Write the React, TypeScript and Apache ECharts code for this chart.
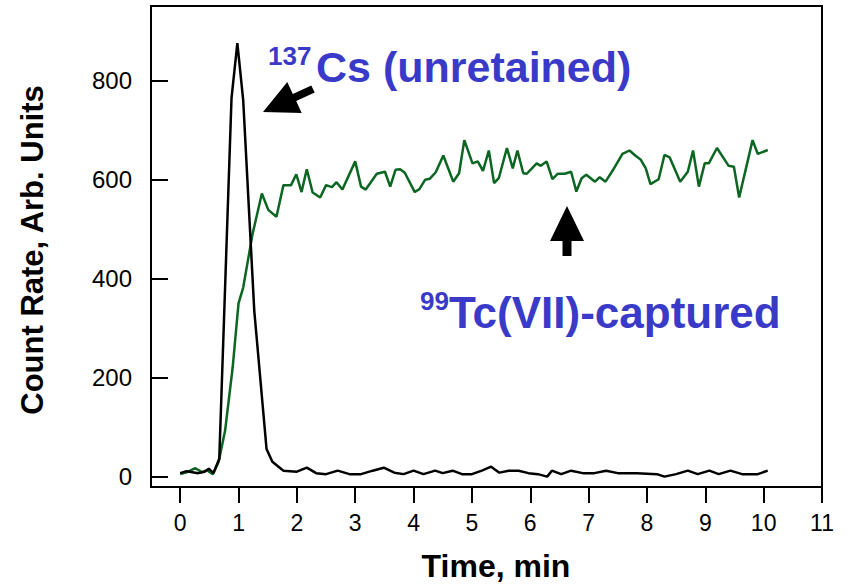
import React, { useEffect, useRef } from "react";
import * as echarts from "echarts";

// x-axis ticks (minutes) and y-axis ticks (count rate)
const xTicks = [0, 1, 2, 3, 4, 5, 6, 7, 8, 9, 10, 11];
const yTicks = [0, 200, 400, 600, 800];

// 99Tc(VII) captured trace (green)
const tcTimes = [
  0.0, 0.1, 0.26, 0.37, 0.46, 0.56, 0.66, 0.77, 0.9, 1.0, 1.08, 1.24, 1.4, 1.51, 1.65,
  1.77, 1.9, 1.99, 2.08, 2.17, 2.27, 2.4, 2.5, 2.6, 2.68, 2.78, 3.0, 3.1, 3.18, 3.37,
  3.51, 3.6, 3.69, 3.77, 3.85, 4.02, 4.1, 4.2, 4.28, 4.38, 4.51, 4.68, 4.78, 4.87,
  5.01, 5.1, 5.19, 5.29, 5.38, 5.46, 5.6, 5.7, 5.78, 5.88, 5.94, 6.11, 6.18, 6.28,
  6.38, 6.47, 6.59, 6.7, 6.79, 6.88, 6.96, 7.11, 7.19, 7.29, 7.42, 7.58, 7.7, 7.81,
  7.89, 7.98, 8.06, 8.2, 8.3, 8.39, 8.57, 8.7, 8.79, 8.89, 8.99, 9.06, 9.2, 9.4,
  9.49, 9.58, 9.81, 9.9, 10.07,
];
const tcCounts = [
  5, 8, 17, 9, 13, 5, 30, 93, 221, 350, 382, 490, 572, 539, 525,
  589, 589, 611, 575, 621, 574, 564, 589, 585, 595, 580, 637, 586, 580, 612,
  616, 586, 620, 621, 614, 575, 581, 600, 602, 615, 649, 596, 613, 680,
  633, 637, 618, 659, 593, 603, 664, 623, 659, 613, 612, 633, 628, 637,
  601, 612, 612, 616, 576, 603, 610, 596, 605, 596, 620, 652, 659, 648,
  641, 623, 591, 601, 650, 645, 596, 616, 659, 586, 633, 633, 664, 628,
  626, 564, 680, 652, 660,
];

// 137Cs unretained trace (black)
const csTimes = [
  0.0, 0.11, 0.31, 0.42, 0.49, 0.57, 0.67, 0.88, 0.98, 1.08, 1.27, 1.48, 1.58, 1.77,
  2.0, 2.17, 2.33, 2.5, 2.7, 2.9, 3.1, 3.3, 3.49, 3.67, 3.83, 4.0, 4.17, 4.37, 4.5,
  4.67, 4.83, 5.0, 5.17, 5.33, 5.47, 5.63, 5.8, 5.97, 6.13, 6.29, 6.37, 6.53, 6.7,
  6.9, 7.1, 7.3, 7.5, 7.83, 8.17, 8.3, 8.5, 8.7, 8.87, 9.07, 9.23, 9.43, 9.63, 9.9,
  10.07,
];
const csCounts = [
  7, 11, 7, 10, 16, 7, 36, 765, 876, 761, 335, 56, 30, 12,
  10, 18, 7, 5, 12, 5, 5, 12, 18, 8, 5, 12, 5, 12, 7,
  12, 5, 5, 12, 20, 8, 12, 12, 7, 5, 0, 12, 5, 12,
  7, 7, 12, 7, 7, 5, 0, 5, 12, 5, 12, 5, 12, 5, 5,
  12,
];

const zip = (xs: number[], ys: number[]) => xs.map((x, i) => [x, ys[i]]);

const FONT = '"Liberation Sans", Arial, sans-serif';
const BLUE = "#3a3ac8";
const GREEN = "#0a6620";

export default function App() {
  const ref = useRef<HTMLDivElement>(null);
  useEffect(() => {
    document.body.style.margin = "0";
    const chart = echarts.init(ref.current!, null, { renderer: "svg" });
    const axisLineStyle = { color: "#000", width: 2 };
    chart.setOption({
      animation: false,
      backgroundColor: "#fff",
      grid: {
        left: 151,
        right: 24,
        top: 6,
        bottom: 97,
        show: true,
        borderColor: "#000",
        borderWidth: 2,
        backgroundColor: "transparent",
      },
      xAxis: {
        type: "value",
        min: -0.5,
        max: 11,
        splitLine: { show: false },
        axisLine: { show: true, onZero: false, lineStyle: axisLineStyle },
        axisTick: { show: true, inside: false, length: 16, customValues: xTicks, lineStyle: axisLineStyle },
        axisLabel: { customValues: xTicks, margin: 24, fontSize: 23, color: "#000", fontFamily: FONT },
      },
      yAxis: {
        type: "value",
        min: -21,
        max: 951,
        splitLine: { show: false },
        axisLine: { show: true, onZero: false, lineStyle: axisLineStyle },
        axisTick: { show: true, inside: true, length: 17, customValues: yTicks, lineStyle: axisLineStyle },
        axisLabel: { customValues: yTicks, margin: 19, fontSize: 24, color: "#000", fontFamily: FONT },
      },
      series: [
        {
          name: "99Tc(VII)-captured",
          type: "line",
          data: zip(tcTimes, tcCounts),
          showSymbol: false,
          symbol: "none",
          lineStyle: { color: GREEN, width: 2.5 },
          z: 2,
        },
        {
          name: "137Cs (unretained)",
          type: "line",
          data: zip(csTimes, csCounts),
          showSymbol: false,
          symbol: "none",
          lineStyle: { color: "#000", width: 2.5 },
          z: 3,
        },
      ],
      graphic: [
        {
          type: "text",
          x: 32,
          y: 250,
          rotation: Math.PI / 2,
          style: { text: "Count Rate, Arb. Units", font: `bold 31px ${FONT}`, fill: "#000", align: "center", verticalAlign: "middle" },
        },
        {
          type: "text",
          x: 496,
          y: 566,
          style: { text: "Time, min", font: `bold 32px ${FONT}`, fill: "#000", align: "center", verticalAlign: "middle" },
        },
        {
          type: "text",
          x: 268,
          y: 56,
          style: { text: "137", font: `bold 26px ${FONT}`, fill: BLUE, align: "left", verticalAlign: "middle" },
        },
        {
          type: "text",
          x: 316,
          y: 67,
          style: { text: "Cs (unretained)", font: `bold 43px ${FONT}`, fill: BLUE, align: "left", verticalAlign: "middle" },
        },
        {
          type: "text",
          x: 420,
          y: 301,
          style: { text: "99", font: `bold 26px ${FONT}`, fill: BLUE, align: "left", verticalAlign: "middle" },
        },
        {
          type: "text",
          x: 449,
          y: 312,
          style: { text: "Tc(VII)-captured", font: `bold 44px ${FONT}`, fill: BLUE, align: "left", verticalAlign: "middle" },
        },
        {
          type: "polygon",
          shape: {
            points: [
              [263, 112], [287.3, 81.9], [292.8, 93.9], [311.3, 85.4],
              [314.7, 92.6], [296.2, 101.1], [301.7, 113.1],
            ],
          },
          style: { fill: "#000" },
        },
        {
          type: "polygon",
          shape: {
            points: [
              [567, 206], [584, 241], [571.5, 241], [571.5, 256],
              [562.5, 256], [562.5, 241], [550, 241],
            ],
          },
          style: { fill: "#000" },
        },
      ],
    });
    return () => chart.dispose();
  }, []);
  return <div ref={ref} style={{ width: 846, height: 584 }} />;
}
